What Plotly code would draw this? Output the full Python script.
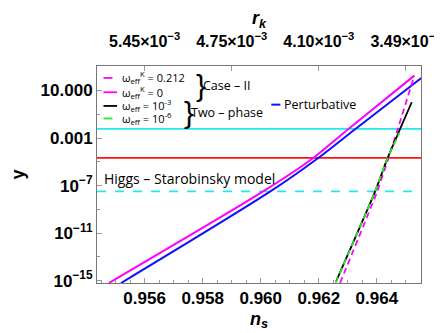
import plotly.graph_objects as go

# ---------------------------------------------------------------------------
# Data (n_s on x, y on a log axis)
# ---------------------------------------------------------------------------
pert_ns = [0.95519, 0.96033, 0.96198, 0.96326, 0.96553]
pert_y = [6.3e-16, 3.2e-8, 2.1e-5, 5.8e-3, 112.0]

case2_w0_ns = [0.95477, 0.96008, 0.96181, 0.96302, 0.96529]
case2_w0_y = [6.3e-16, 3.2e-8, 2.1e-5, 5.8e-3, 178.0]

case2_w212_ns = [0.96273, 0.96401, 0.96440, 0.96472, 0.96529]
case2_w212_y = [6.3e-16, 3.2e-8, 2.1e-5, 5.8e-3, 178.0]

two_w3_ns = [0.96260, 0.96394, 0.96437, 0.96480, 0.96520]
two_w3_y = [9.1e-16, 3.2e-8, 2.1e-5, 5.8e-3, 1.02]

two_w6_ns = [0.96258, 0.96394, 0.96437, 0.96478]
two_w6_y = [6.3e-16, 3.2e-8, 2.1e-5, 2.8e-3]

# horizontal bounds
cyan_solid_y = 5.8e-3
red_y = 2.1e-5
cyan_dash_y = 3.2e-8

x_range = [0.95436, 0.96552]
y_range_log = [-15.2, 3.06]

bottom_ticks = [0.956, 0.958, 0.960, 0.962, 0.964]
bottom_labels = ["0.956", "0.958", "0.960", "0.962", "0.964"]
top_ticks = [0.956, 0.959, 0.962, 0.965]
top_labels = ["5.45×10<sup>−3</sup>", "4.75×10<sup>−3</sup>",
              "4.10×10<sup>−3</sup>", "3.49×10<sup>−3</sup>"]
y_ticks = [1e-15, 1e-11, 1e-7, 1e-3, 10]
y_labels = ["10<sup>−15</sup>", "10<sup>−11</sup>", "10<sup>−7</sup>", "0.001", "10.000"]
y_minor = [1e-15, 1e-13, 1e-11, 1e-9, 1e-7, 1e-5, 1e-3, 1e-1, 1e1]

TICK_FONT = dict(family="Liberation Sans", size=17, color="black", weight="bold")
TEXT_FONT = dict(family="Open Sans", size=12.5, color="black")

fig = go.Figure()

# ── horizontal bounds ─────────────────────────────────────────────────────
for yv, col, dash in [(cyan_solid_y, "#22e8f0", "solid"),
                      (red_y, "#ff1010", "solid"),
                      (cyan_dash_y, "#22e8f0", "dash")]:
    fig.add_trace(go.Scatter(x=x_range, y=[yv, yv], mode="lines",
                             line=dict(color=col, width=1.8, dash=dash),
                             showlegend=False, hoverinfo="skip"))

# ── curves ────────────────────────────────────────────────────────────────
fig.add_trace(go.Scatter(x=pert_ns, y=pert_y, mode="lines",
                         line=dict(color="#1010ff", width=2, shape="spline", smoothing=0.8),
                         showlegend=False))
fig.add_trace(go.Scatter(x=case2_w0_ns, y=case2_w0_y, mode="lines",
                         line=dict(color="#ff00ff", width=2, shape="spline", smoothing=0.8),
                         showlegend=False))
fig.add_trace(go.Scatter(x=case2_w212_ns, y=case2_w212_y, mode="lines",
                         line=dict(color="#ff00ff", width=1.8, dash="6px,4px",
                                   shape="spline", smoothing=0.6),
                         showlegend=False))
fig.add_trace(go.Scatter(x=two_w3_ns, y=two_w3_y, mode="lines",
                         line=dict(color="black", width=1.8, shape="spline", smoothing=0.6),
                         showlegend=False))
fig.add_trace(go.Scatter(x=two_w6_ns, y=two_w6_y, mode="lines",
                         line=dict(color="#22ee22", width=1.8, dash="6px,4px",
                                   shape="spline", smoothing=0.6),
                         showlegend=False))

# dummy trace on the top axis so it gets drawn
fig.add_trace(go.Scatter(x=x_range, y=[1e-20, 1e-20], xaxis="x2", mode="lines",
                         line=dict(width=0), showlegend=False, hoverinfo="skip"))

# ── hand-made legend (braces like the original) ───────────────────────────
legend_rows = [
    (0.945, "#ff00ff", "dash", "ω<sub>eff</sub><sup>K</sup> = 0.212"),
    (0.879, "#ff00ff", "solid", "ω<sub>eff</sub><sup>K</sup> = 0"),
    (0.816, "black", "solid", "ω<sub>eff</sub> = 10<sup>-3</sup>"),
    (0.758, "#22ee22", "dash", "ω<sub>eff</sub> = 10<sup>-6</sup>"),
]
for ly, col, dash, label in legend_rows:
    fig.add_shape(type="line", xref="paper", yref="paper",
                  x0=0.020, x1=0.062, y0=ly, y1=ly,
                  line=dict(color=col, width=1.8, dash=dash))
    fig.add_annotation(x=0.072, y=ly, xref="paper", yref="paper", text=label,
                       showarrow=False, xanchor="left", yanchor="middle",
                       font=dict(TEXT_FONT, size=11))

fig.add_annotation(x=0.300, y=0.912, xref="paper", yref="paper", text="}",
                   showarrow=False, xanchor="left", yanchor="middle",
                   font=dict(family="Liberation Sans", size=30, color="black"))
fig.add_annotation(x=0.322, y=0.912, xref="paper", yref="paper", text="Case – II",
                   showarrow=False, xanchor="left", yanchor="middle", font=TEXT_FONT)
fig.add_annotation(x=0.262, y=0.787, xref="paper", yref="paper", text="}",
                   showarrow=False, xanchor="left", yanchor="middle",
                   font=dict(family="Liberation Sans", size=30, color="black"))
fig.add_annotation(x=0.284, y=0.787, xref="paper", yref="paper", text="Two – phase",
                   showarrow=False, xanchor="left", yanchor="middle", font=TEXT_FONT)

fig.add_shape(type="line", xref="paper", yref="paper",
              x0=0.538, x1=0.566, y0=0.822, y1=0.822,
              line=dict(color="#1010ff", width=2))
fig.add_annotation(x=0.572, y=0.822, xref="paper", yref="paper", text="Perturbative",
                   showarrow=False, xanchor="left", yanchor="middle", font=TEXT_FONT)

fig.add_annotation(x=0.95452, y=-6.37, text="Higgs – Starobinsky model",
                   showarrow=False, xanchor="left", yanchor="middle",
                   font=dict(TEXT_FONT, size=14))

# ── axes / layout ─────────────────────────────────────────────────────────
fig.update_layout(
    width=442, height=333,
    margin=dict(l=89, r=29, t=58, b=58),
    paper_bgcolor="white", plot_bgcolor="white",
    showlegend=False,
    xaxis=dict(range=x_range, tickvals=bottom_ticks, ticktext=bottom_labels,
               ticks="inside", ticklen=5, tickcolor="#999", tickfont=TICK_FONT,
               minor=dict(dtick=0.0005, ticks="inside", ticklen=3, tickcolor="#999"),
               showline=True, linecolor="#777", linewidth=1, mirror=False,
               showgrid=False, zeroline=False, automargin=False,
               title=dict(text="<i>n<sub>s</sub></i>", standoff=4,
                          font=dict(family="Liberation Sans", size=18, color="black",
                                    weight="bold"))),
    xaxis2=dict(range=x_range, overlaying="x", side="top", anchor="y",
                tickvals=top_ticks, ticktext=top_labels,
                ticks="inside", ticklen=5, tickcolor="#999",
                tickfont=dict(TICK_FONT, size=16),
                ticklabelstandoff=12,
                showline=True, linecolor="#777", linewidth=1,
                showgrid=False, zeroline=False, automargin=False,
                title=dict(text="<i>r<sub>k</sub></i>", standoff=0,
                           font=dict(family="Liberation Sans", size=18, color="black",
                                     weight="bold"))),
    yaxis=dict(type="log", range=y_range_log, tickvals=y_ticks, ticktext=y_labels,
               ticks="inside", ticklen=5, tickcolor="#999", tickfont=TICK_FONT,
               minor=dict(tickmode="array", tickvals=y_minor, ticks="inside",
                          ticklen=3, tickcolor="#999"),
               showline=True, linecolor="#777", linewidth=1, mirror=True,
               showgrid=False, zeroline=False, automargin=False,
               title=dict(text="<b>y</b>", standoff=18,
                          font=dict(family="Liberation Sans", size=18, color="black"))),
)

fig.write_html("out.html")
